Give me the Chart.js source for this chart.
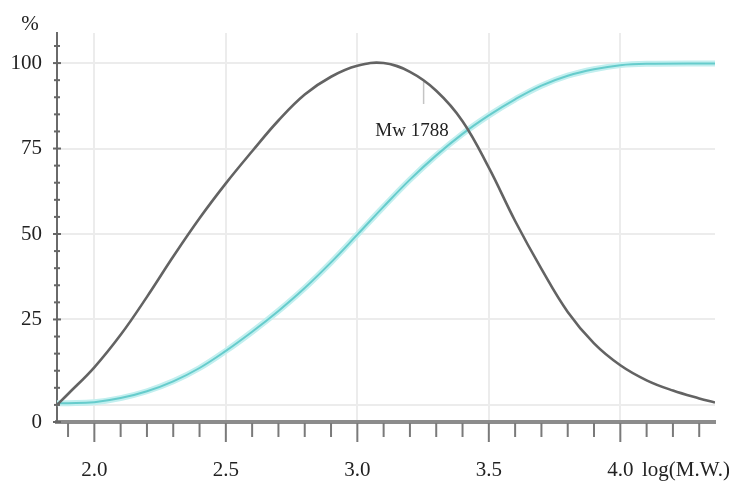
<!DOCTYPE html>
<html>
<head>
<meta charset="utf-8">
<script src="https://cdn.jsdelivr.net/npm/chart.js@4/dist/chart.umd.min.js"></script>
<style>
  html, body { margin: 0; padding: 0; background: #fff; }
  #wrap { width: 729px; height: 488px; }
</style>
</head>
<body>
<div id="wrap"><canvas id="chart" width="729" height="488"></canvas></div>
<script>
// distribution curve (grey): log(M.W.) -> %
const distX = [1.858, 1.9, 2.0, 2.1, 2.2, 2.3, 2.4, 2.5, 2.6, 2.7, 2.8, 2.9, 3.0, 3.1, 3.2, 3.3, 3.4, 3.5, 3.6, 3.7, 3.8, 3.9, 4.0, 4.1, 4.2, 4.3, 4.36];
const distY = [0, 3.2, 11.0, 20.5, 31.6, 43.4, 54.6, 64.8, 74.2, 83.2, 90.8, 96.0, 99.2, 100, 97.4, 91.9, 83.0, 69.4, 53.8, 39.8, 27.2, 18.0, 11.6, 7.2, 4.2, 1.9, 0.7];

// cumulative curve (cyan)
const cumX = [1.858, 1.9, 2.0, 2.1, 2.2, 2.3, 2.4, 2.5, 2.6, 2.7, 2.8, 2.9, 3.0, 3.1, 3.2, 3.3, 3.4, 3.5, 3.6, 3.7, 3.8, 3.9, 4.0, 4.1, 4.36];
const cumY = [0.5, 0.5, 0.8, 2.0, 4.0, 6.9, 10.8, 15.8, 21.4, 27.5, 34.2, 41.7, 49.8, 58.0, 65.9, 73.0, 79.3, 84.7, 89.4, 93.4, 96.3, 98.2, 99.4, 99.8, 99.9];

// Mw marker
const mwLabel = "Mw 1788";
const mwX = [3.252, 3.252];
const mwY = [94.5, 88];

// ticks
const xTicks = [1.9, 2.0, 2.1, 2.2, 2.3, 2.4, 2.5, 2.6, 2.7, 2.8, 2.9, 3.0, 3.1, 3.2, 3.3, 3.4, 3.5, 3.6, 3.7, 3.8, 3.9, 4.0, 4.1, 4.2, 4.3];
const yTicks = [-5, 0, 5, 10, 15, 20, 25, 30, 35, 40, 45, 50, 55, 60, 65, 70, 75, 80, 85, 90, 95, 100, 105];
const yLabels = { "-5": "0", "25": "25", "50": "50", "75": "75", "100": "100" };
const yGrid = [0, 25, 50, 75, 100];

const FONT = "'Liberation Serif', 'DejaVu Serif', serif";

const toPoints = (xs, ys) => xs.map((x, i) => ({ x: x, y: ys[i] }));
const isMajorX = (v) => Math.round(v * 10) % 5 === 0;

// tick marks and free text
const decor = {
  id: "decor",
  afterDraw(chart) {
    const ctx = chart.ctx;
    const xs = chart.scales.x;
    const ys = chart.scales.y;
    const area = chart.chartArea;
    ctx.save();
    // y tick marks
    ctx.strokeStyle = "#666";
    ctx.lineWidth = 2;
    ys.ticks.forEach((t) => {
      const py = ys.getPixelForValue(t.value);
      const w = yLabels[String(t.value)] ? 4 : 3;
      ctx.beginPath();
      ctx.moveTo(area.left - w, py);
      ctx.lineTo(area.left + w, py);
      ctx.stroke();
    });
    // x tick marks
    ctx.strokeStyle = "#7a7a7a";
    xs.ticks.forEach((t) => {
      const px = xs.getPixelForValue(t.value);
      ctx.beginPath();
      ctx.moveTo(px, area.bottom + 1);
      ctx.lineTo(px, area.bottom + (isMajorX(t.value) ? 20 : 15));
      ctx.stroke();
    });
    // texts
    ctx.fillStyle = "#222";
    ctx.font = "21px " + FONT;
    ctx.textBaseline = "middle";
    ctx.textAlign = "center";
    ctx.fillText("%", 30, 24);
    ctx.textAlign = "left";
    ctx.fillText("log(M.W.)", 642, 470);
    ctx.textAlign = "center";
    ctx.font = "19px " + FONT;
    ctx.fillText(mwLabel, 412, 131);
    ctx.restore();
  },
};

new Chart(document.getElementById("chart"), {
  type: "line",
  data: {
    datasets: [
      {
        data: toPoints(distX, distY),
        borderColor: "#636363",
        borderWidth: 2.6,
        pointRadius: 0,
        tension: 0.4,
        order: 0,
      },
      {
        data: toPoints(cumX, cumY),
        borderColor: "#66cccc",
        borderWidth: 2,
        pointRadius: 0,
        tension: 0.4,
        order: 1,
      },
      {
        // soft halo of the cyan line
        data: toPoints(cumX, cumY),
        borderColor: "#c2efef",
        borderWidth: 6,
        pointRadius: 0,
        tension: 0.4,
        order: 2,
      },
      {
        data: toPoints(mwX, mwY),
        borderColor: "#c4c4c4",
        borderWidth: 1.5,
        pointRadius: 0,
        order: 3,
      },
    ],
  },
  options: {
    responsive: false,
    animation: false,
    layout: { padding: { top: 33, right: 14, left: 0, bottom: 0 } },
    plugins: { legend: { display: false }, tooltip: { enabled: false } },
    scales: {
      x: {
        type: "linear",
        min: 1.858,
        max: 4.36,
        afterBuildTicks: (scale) => {
          scale.ticks = xTicks.map((v) => ({ value: v }));
        },
        afterFit: (scale) => {
          scale.height = 66;
          scale.paddingLeft = 0;
          scale.paddingRight = 0;
        },
        border: { color: "#8c8c8c", width: 4 },
        grid: {
          drawTicks: false,
          lineWidth: 2,
          color: (c) => (c.tick && isMajorX(c.tick.value) ? "#ececec" : "rgba(0,0,0,0)"),
        },
        ticks: {
          autoSkip: false,
          maxRotation: 0,
          padding: 36,
          color: "#222",
          font: { family: FONT, size: 21 },
          callback: (v) => (isMajorX(v) ? v.toFixed(1) : ""),
        },
      },
      y: {
        type: "linear",
        min: -5,
        max: 108.8,
        afterBuildTicks: (scale) => {
          scale.ticks = yTicks.map((v) => ({ value: v }));
        },
        afterFit: (scale) => {
          scale.width = 57;
          scale.paddingTop = 0;
          scale.paddingBottom = 0;
        },
        border: { color: "#6a6a6a", width: 2 },
        grid: {
          drawTicks: false,
          lineWidth: 2,
          color: (c) => (c.tick && yGrid.includes(c.tick.value) ? "#ececec" : "rgba(0,0,0,0)"),
        },
        ticks: {
          autoSkip: false,
          padding: 15,
          color: "#222",
          font: { family: FONT, size: 21 },
          callback: (v) => yLabels[String(v)] || "",
        },
      },
    },
  },
  plugins: [decor],
});
</script>
</body>
</html>
